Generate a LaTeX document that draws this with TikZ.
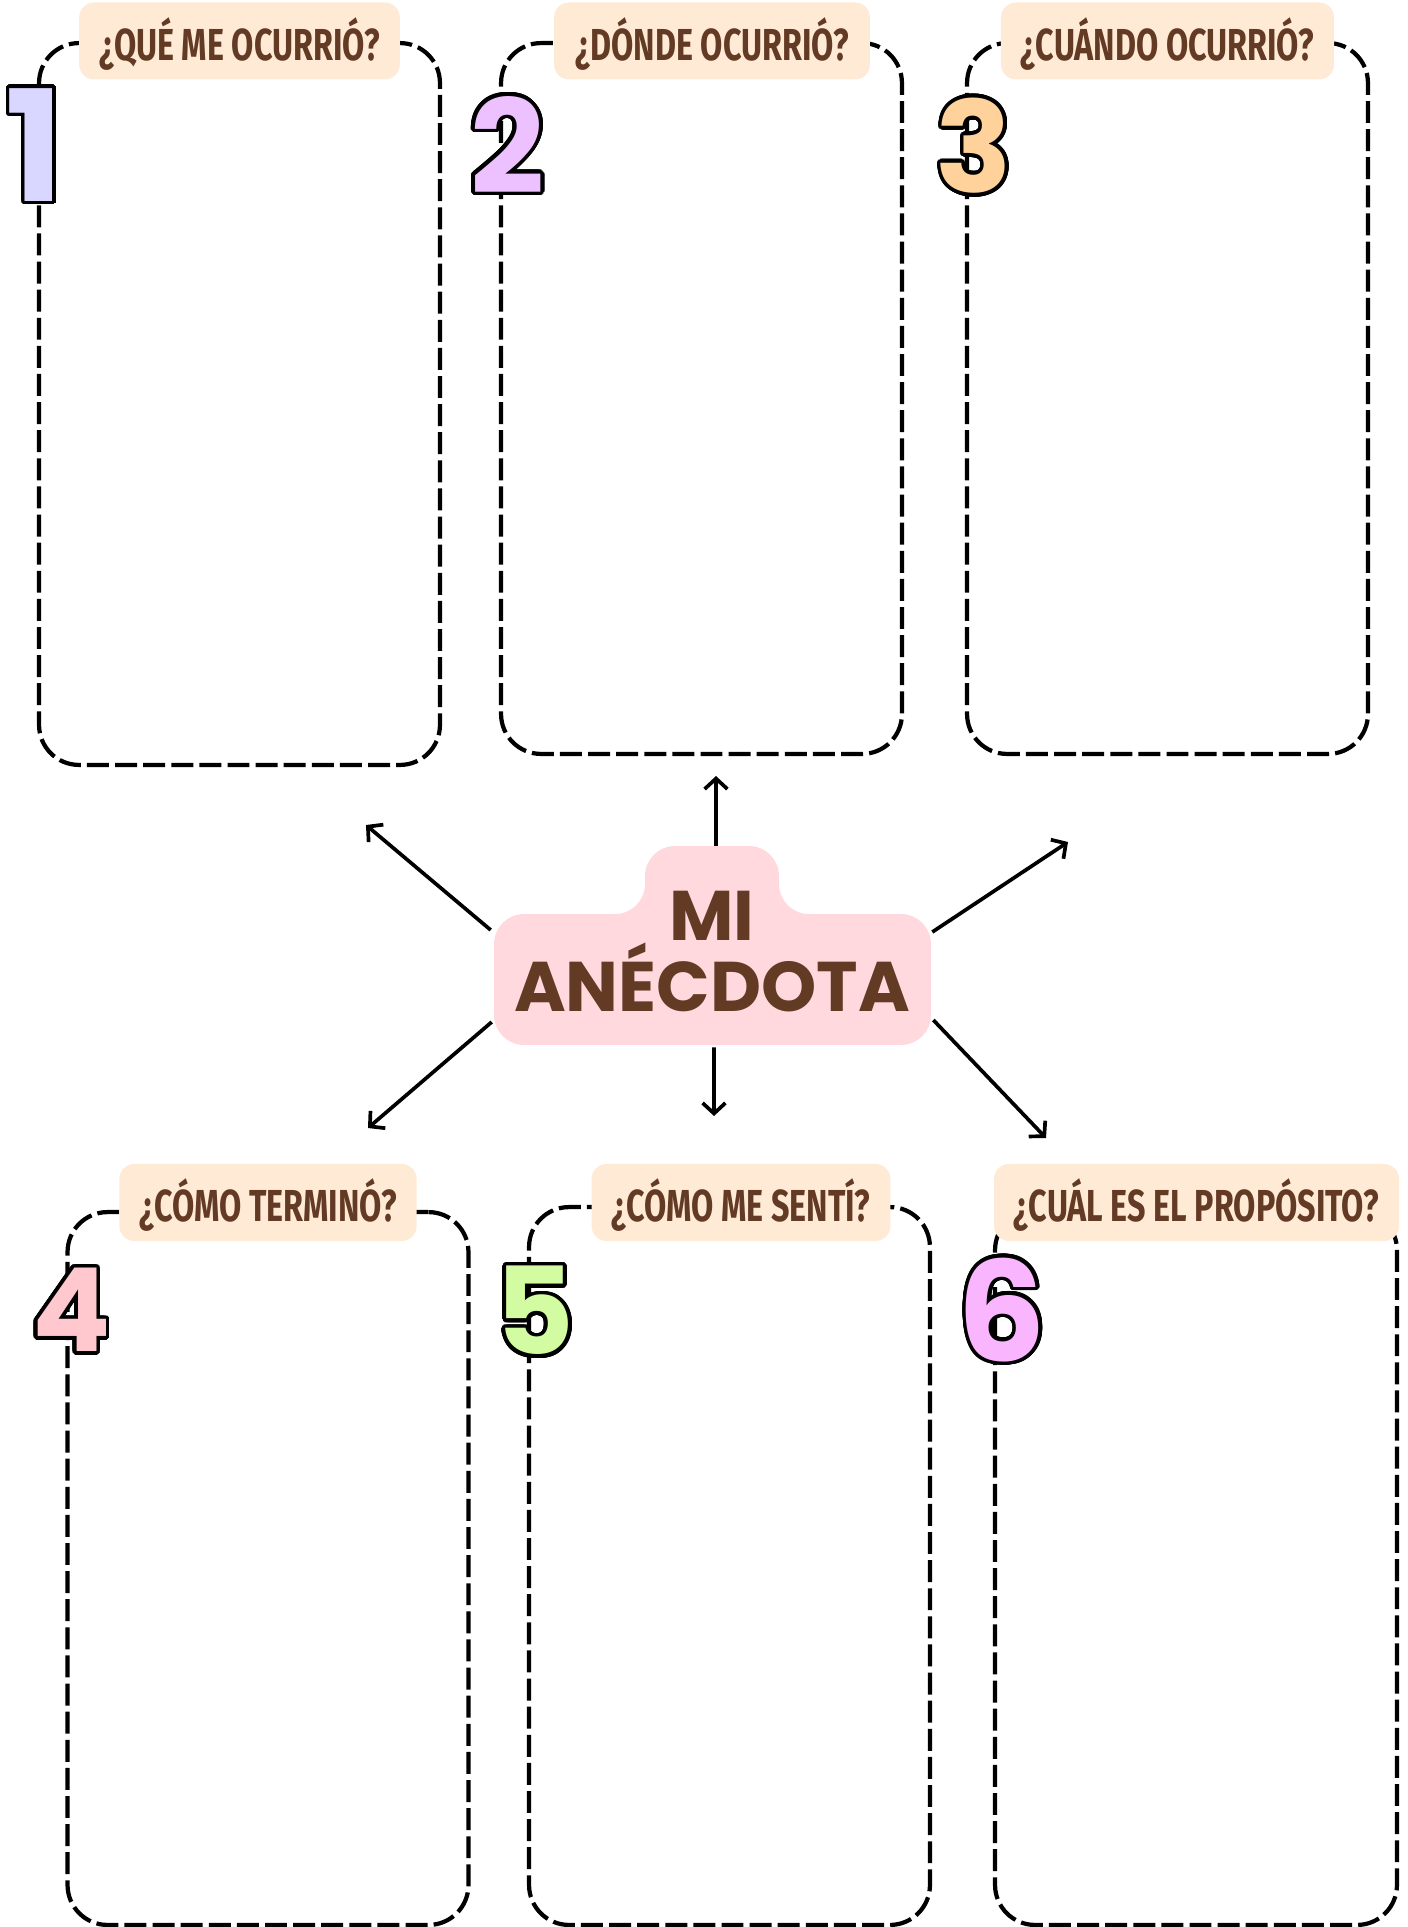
\documentclass[tikz,border=0pt]{standalone}
\usepackage{fontspec}
\usepackage{xcolor}
\usepackage{contour}
\usetikzlibrary{arrows.meta,calc,positioning}
\newfontfamily\headfont[FakeStretch=0.72]{Fira Sans}
\newfontfamily\corefont{Poppins}
\definecolor{cocoa}{HTML}{633A24}
\definecolor{peach}{HTML}{FFEAD6}
\definecolor{blush}{HTML}{FFD9DD}
\definecolor{numA}{HTML}{D9D6FF}
\definecolor{numB}{HTML}{EDC0FF}
\definecolor{numC}{HTML}{FFD29C}
\definecolor{numD}{HTML}{FFC8CE}
\definecolor{numE}{HTML}{D3FBA2}
\definecolor{numF}{HTML}{F9B6FF}
\contourlength{2.1pt}
\contournumber{32}

\begin{document}
\begin{tikzpicture}[x=0.02cm,y=-0.02cm,
  card/.style={draw,line width=2.4pt,dash pattern=on 12.5pt off 3.5pt,rounded corners=0.8cm,minimum width=8.02cm,inner sep=0pt},
  tag/.style={fill=peach,rounded corners=0.3cm,minimum height=1.54cm,inner xsep=0.4cm,text=cocoa,
    font=\headfont\bfseries\fontsize{25.5}{27}\selectfont,text height=22pt,text depth=0pt},
  bubble/.style={inner sep=0pt,font=\corefont\bfseries\fontsize{#1}{#1}\selectfont},
  spoke/.style={line width=2.1pt,-{Straight Barb[length=6pt,width=13pt]}}]
  \useasboundingbox (0,0) rectangle (1408,1927);

  \node[card,minimum height=14.44cm] (qA) at (239.5,404) {};
  \node[card,minimum height=14.22cm] (qB) at (701.5,398.5) {};
  \node[card,minimum height=14.22cm] (qC) at (1167.5,398.5) {};
  \node[card,minimum height=14.26cm] (qD) at (268,1568.5) {};
  \node[card,minimum height=14.36cm] (qE) at (729.5,1566) {};
  \node[card,minimum height=14.3cm,minimum width=8.04cm] (qF) at (1196,1567.5) {};

  \node[tag] (tA) at (qA.north) {¿QUÉ ME OCURRIÓ?};
  \node[tag,minimum width=6.32cm] (tB) at ($(qB.north)+(10.5,0)$) {¿DÓNDE OCURRIÓ?};
  \node[tag] (tC) at (qC.north) {¿CUÁNDO OCURRIÓ?};
  \node[tag] (tD) at ($(qD.north)+(0,-7.5)$) {¿CÓMO TERMINÓ?};
  \node[tag] (tE) at ($(qE.north)+(11.5,-2.5)$) {¿CÓMO ME SENTÍ?};
  \node[tag] (tF) at ($(qF.north)+(0.5,-5.5)$) {¿CUÁL ES EL PROPÓSITO?};

  \node[bubble=88,text=numA] (nA) at (35,146.5) {\contour{black}{1}};
  \node[bubble=74,text=numB] (nB) at (507.5,146.5) {\contour{black}{2}};
  \node[bubble=72,text=numC] (nC) at (974,147.5) {\contour{black}{3}};
  \node[bubble=66,text=numD] (nD) at (71.5,1312) {\contour{black}{4}};
  \node[bubble=69,text=numE] (nE) at (535,1312.5) {\contour{black}{5}};
  \node[bubble=79,text=numF] (nF) at (1002,1311.5) {\contour{black}{6}};

  \fill[blush,rounded corners=0.6cm] (560,950) -- (560,914) -- (645,914) -- (645,846) -- (779,846)
    -- (779,914) -- (865,914) -- (865,950) -- cycle;
  \node[fill=blush,rounded corners=0.6cm,minimum width=8.74cm,minimum height=2.62cm] (core) at (712.5,979.5) {};
  \node[text=cocoa,align=center,inner sep=0pt,font=\corefont\bfseries\fontsize{40}{38}\selectfont] (coretext) at (712,951.5) {MI\\ANÉCDOTA};
  \coordinate (coretop) at (716,846);

  \coordinate (toA) at (366,825);
  \coordinate (toB) at (716,776);
  \coordinate (toC) at (1068,842);
  \coordinate (toD) at (368,1128);
  \coordinate (toE) at (714,1116);
  \coordinate (toF) at (1046,1138);
  \draw[spoke] ($(core.west)+(-3,-49.5)$) -- (toA);
  \draw[spoke] (coretop) -- (toB);
  \draw[spoke] ($(core.east)+(1,-47.5)$) -- (toC);
  \draw[spoke] ($(core.west)+(-2,42.5)$) -- (toD);
  \draw[spoke] ($(core.south)+(1.5,2)$) -- (toE);
  \draw[spoke] ($(core.east)+(2,40.5)$) -- (toF);
\end{tikzpicture}
\end{document}
